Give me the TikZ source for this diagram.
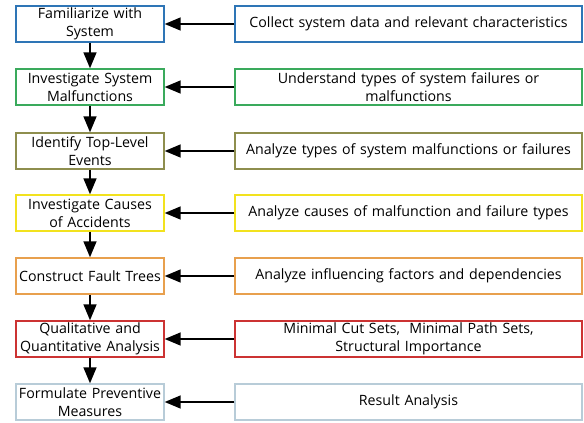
\documentclass[tikz,border=0pt]{standalone}
\usepackage{fontspec}
\setmainfont{Open Sans}
\usepackage{tikz}
\usetikzlibrary{arrows.meta}
\definecolor{boxblue}{HTML}{2E75B6}
\definecolor{boxgreen}{HTML}{3AAA5C}
\definecolor{boxolive}{HTML}{8E8E4E}
\definecolor{boxyellow}{HTML}{F2E21E}
\definecolor{boxorange}{HTML}{E8A04E}
\definecolor{boxred}{HTML}{CC3333}
\definecolor{boxgrey}{HTML}{B8CCD8}

\begin{document}
\begin{tikzpicture}[x=1pt,y=-1pt,line width=1.4pt,
  stepbox/.style={draw,minimum width=146pt,minimum height=36pt,text width=148pt,
    align=center,inner sep=0pt,font=\fontsize{14.2}{18}\selectfont},
  notebox/.style={draw,minimum width=347pt,minimum height=36pt,text width=340pt,
    align=center,inner sep=0pt,font=\fontsize{14.2}{18}\selectfont},
  arr/.style={-{Triangle[length=16pt,width=13pt]},line width=1.5pt}]
  \useasboundingbox (0,0) rectangle (584,423);
  % left column
  \node[stepbox,boxblue] (s1) at (90,24) {\color{black}Familiarize with\\System};
  \node[stepbox,boxgreen] (s2) at (90,87) {\color{black}Investigate System\\Malfunctions};
  \node[stepbox,boxolive] (s3) at (90,151) {\color{black}Identify Top-Level\\Events};
  \node[stepbox,boxyellow] (s4) at (90,213) {\color{black}Investigate Causes\\of Accidents};
  \node[stepbox,boxorange] (s5) at (90,276) {\color{black}Construct Fault Trees};
  \node[stepbox,boxred] (s6) at (90,339) {\color{black}Qualitative and\\Quantitative Analysis};
  \node[stepbox,boxgrey] (s7) at (90,402) {\color{black}Formulate Preventive\\Measures};
  % right column
  \node[notebox,boxblue] (n1) at (408.5,24) {\color{black}Collect system data and relevant characteristics};
  \node[notebox,boxgreen] (n2) at (408.5,87) {\color{black}Understand types of system failures or\\malfunctions};
  \node[notebox,boxolive] (n3) at (408.5,151) {\color{black}Analyze types of system malfunctions or failures};
  \node[notebox,boxyellow] (n4) at (408.5,213) {\color{black}Analyze causes of malfunction and failure types};
  \node[notebox,boxorange] (n5) at (408.5,276) {\color{black}Analyze influencing factors and dependencies};
  \node[notebox,boxred] (n6) at (408.5,339) {\color{black}Minimal Cut Sets,~ Minimal Path Sets,\\Structural Importance};
  \node[notebox,boxgrey] (n7) at (408.5,402) {\color{black}Result Analysis};
  % arrows
  \draw[arr] (s1) -- (s2);
  \draw[arr] (s2) -- (s3);
  \draw[arr] (s3) -- (s4);
  \draw[arr] (s4) -- (s5);
  \draw[arr] (s5) -- (s6);
  \draw[arr] (s6) -- (s7);
  \draw[arr] (n1) -- (s1);
  \draw[arr] (n2) -- (s2);
  \draw[arr] (n3) -- (s3);
  \draw[arr] (n4) -- (s4);
  \draw[arr] (n5) -- (s5);
  \draw[arr] (n6) -- (s6);
  \draw[arr] (n7) -- (s7);
\end{tikzpicture}
\end{document}
